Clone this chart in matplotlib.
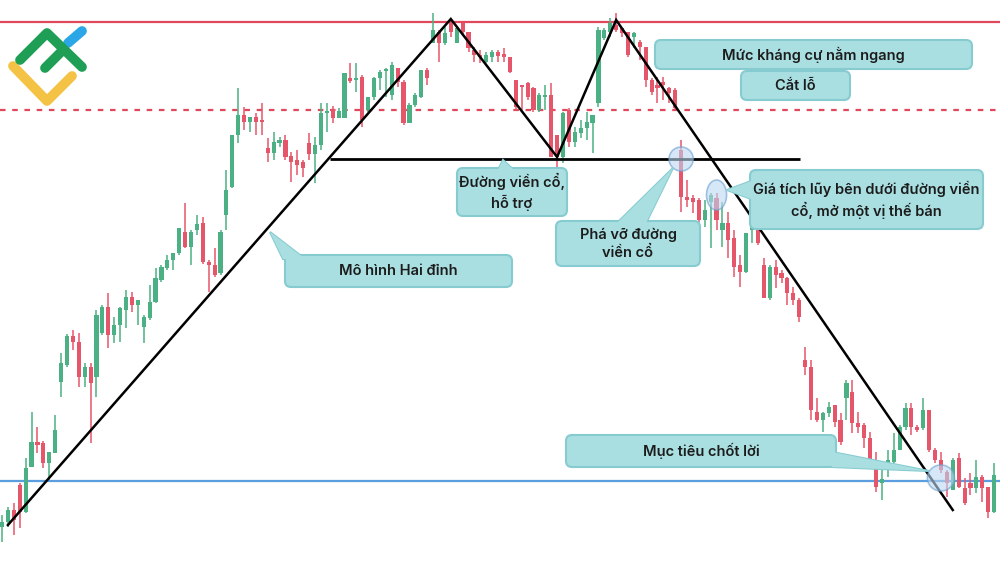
import numpy as np
import matplotlib
matplotlib.use("Agg")
import matplotlib.pyplot as plt
from matplotlib.patches import FancyBboxPatch, Polygon, Ellipse

plt.rcParams['font.family'] = ['Inter', 'DejaVu Sans']

# candle data (open, close, high, low)
opens = [45, 50, 62, 87, 60, 105, 130, 129, 109, 119, 190, 207, 236, 230, 195, 205, 195, 239, 265, 237,
         247, 262, 275, 267, 245, 254, 270, 292, 304, 312, 319, 340, 325, 342, 349, 310, 307, 299, 357, 385,
         437, 457, 450, 455, 452, 424, 419, 429, 432, 416, 412, 410, 429, 418, 427, 459, 463, 454, 454, 494,
         492, 495, 462, 475, 494, 501, 477, 504, 490, 449, 467, 475, 502, 529, 540, 529, 549, 529, 549, 540,
         522, 517, 510, 515, 520, 518, 515, 492, 487, 489, 484, 462, 475, 477, 437, 415, 462, 430, 439, 444,
         449, 469, 534, 540, 547, 544, 540, 535, 530, 525, 492, 487, 490, 484, 482, 422, 375, 374, 372, 352,
         370, 374, 342, 349, 334, 307, 300, 342, 342, 307, 274, 305, 299, 294, 279, 272, 212, 205, 160, 152,
         159, 167, 152, 174, 180, 149, 147, 134, 104, 89, 104, 110, 122, 145, 164, 145, 144, 162, 122, 112,
         100, 82, 114, 84, 89, 84, 95, 85, 60]
closes = [50, 62, 52, 60, 104, 130, 127, 109, 120, 142, 209, 236, 230, 195, 205, 189, 257, 265, 237, 247,
          264, 275, 267, 272, 255, 270, 294, 305, 312, 319, 344, 325, 340, 348, 310, 307, 297, 340, 382, 437,
          457, 450, 455, 450, 450, 419, 430, 432, 415, 410, 407, 404, 418, 427, 459, 461, 454, 461, 499, 491,
          494, 452, 475, 494, 500, 503, 507, 490, 449, 467, 477, 502, 494, 542, 529, 539, 540, 544, 540, 524,
          517, 515, 517, 520, 516, 515, 500, 465, 485, 475, 462, 477, 477, 415, 415, 459, 430, 440, 444, 450,
          457, 542, 542, 549, 542, 539, 517, 539, 525, 492, 480, 484, 487, 479, 464, 375, 372, 370, 352, 362,
          377, 352, 349, 332, 305, 300, 339, 352, 329, 274, 305, 297, 294, 279, 272, 255, 205, 162, 152, 159,
          165, 150, 130, 189, 149, 145, 134, 110, 85, 93, 112, 122, 145, 164, 145, 142, 162, 122, 112, 102,
          89, 112, 85, 69, 84, 95, 84, 60, 97]
highs = [57, 65, 69, 89, 114, 160, 145, 131, 120, 157, 219, 238, 242, 239, 209, 209, 262, 267, 279, 255,
         265, 282, 280, 272, 257, 287, 304, 307, 317, 319, 344, 369, 342, 357, 355, 312, 324, 342, 402, 437,
         484, 465, 455, 459, 469, 434, 440, 435, 437, 420, 422, 412, 439, 435, 469, 469, 466, 464, 499, 509,
         509, 497, 475, 495, 502, 504, 510, 504, 492, 469, 479, 502, 504, 559, 542, 545, 551, 545, 549, 540,
         525, 522, 520, 522, 522, 524, 515, 492, 487, 490, 485, 479, 487, 489, 437, 460, 464, 445, 452, 460,
         457, 545, 544, 554, 559, 544, 540, 540, 532, 525, 494, 495, 495, 485, 484, 432, 392, 377, 374, 372,
         379, 379, 370, 360, 342, 317, 339, 354, 345, 314, 307, 312, 302, 295, 285, 274, 225, 212, 174, 160,
         170, 167, 159, 192, 192, 160, 149, 140, 120, 102, 122, 139, 147, 169, 169, 147, 174, 162, 124, 120,
         102, 114, 119, 94, 99, 112, 97, 85, 109]
lows = [30, 45, 37, 44, 59, 105, 119, 104, 92, 119, 175, 205, 222, 185, 185, 129, 175, 237, 224, 229,
        230, 244, 260, 247, 229, 252, 269, 290, 302, 302, 317, 324, 307, 337, 308, 280, 295, 297, 342, 384,
        429, 442, 440, 437, 437, 410, 412, 425, 412, 390, 397, 395, 412, 389, 422, 440, 449, 454, 454, 489,
        480, 445, 460, 472, 482, 475, 472, 485, 447, 449, 465, 474, 487, 529, 510, 527, 535, 529, 537, 520,
        510, 509, 509, 510, 510, 510, 499, 462, 462, 472, 460, 460, 462, 415, 405, 409, 425, 425, 434, 432,
        419, 465, 532, 535, 540, 535, 515, 524, 512, 485, 477, 469, 472, 469, 462, 360, 365, 359, 350, 345,
        324, 342, 325, 314, 295, 285, 299, 329, 327, 274, 272, 284, 289, 267, 267, 250, 197, 152, 150, 140,
        155, 145, 127, 152, 139, 139, 124, 109, 80, 72, 95, 109, 122, 142, 137, 140, 142, 120, 109, 99,
        75, 82, 84, 67, 77, 79, 70, 54, 59]

# levels
resistance = 550
stop_loss = 462
neckline = 413
target = 91
neck_start, neck_end = 55.5, 135.1

# double top pattern points (candle index, price)
pattern_x = [1.0, 76.0, 94.0, 104.0, 161.0]
pattern_y = [47, 553, 415, 552, 62]

green = '#4bb083'
red = '#e6566b'

fig = plt.figure(figsize=(10, 5.72), dpi=100)
ax = fig.add_axes([0, 0, 1, 1])
ax.set_xlim(-0.34, 169.0)
ax.set_ylim(0, 572)
ax.axis('off')

idx = np.arange(len(opens))
o = np.array(opens)
c = np.array(closes)
up = c >= o
col = np.where(up, green, red)
ax.vlines(idx, lows, highs, colors=col, linewidth=1.1, zorder=2)
ax.bar(idx, np.abs(c - o) + 0.8, bottom=np.minimum(o, c) - 0.4, width=0.7, color=col, zorder=3)

ax.axhline(resistance, color='#e0485c', lw=1.6, zorder=1)
ax.axhline(stop_loss, color='#e0485c', lw=1.6, ls=(0, (2.5, 3)), zorder=1)
ax.axhline(target, color='#5a9ee0', lw=1.6, zorder=1)
ax.hlines(neckline, neck_start, neck_end, color='black', lw=2, zorder=4)
ax.plot(pattern_x, pattern_y, color='black', lw=1.8, zorder=4, solid_joinstyle='miter')

# circles
for cx, cy, w, h in [(115, 413, 4.1, 24), (121, 377, 3.4, 30), (159, 94, 4.6, 26)]:
    ax.add_patch(Ellipse((cx, cy), w, h, facecolor='#bcd8f2', edgecolor='#6a9fd0',
                         alpha=0.6, lw=1.2, zorder=5))

# overlay in pixel coords for callouts + logo
ov = fig.add_axes([0, 0, 1, 1])
ov.set_xlim(0, 1000)
ov.set_ylim(572, 0)
ov.axis('off')
ov.patch.set_alpha(0)

fill = '#aadfe2'
edge = '#86cbd0'

callouts = [
    ((655, 40, 317, 29), None, 'Mức kháng cự nằm ngang'),
    ((741, 71, 109, 29), None, 'Cắt lỗ'),
    ((457, 168, 110, 48), [(503, 160), (496, 174), (518, 174)], 'Đường viền cổ,\nhỗ trợ'),
    ((285, 255, 227, 32), [(270, 232), (283, 259), (305, 259)], 'Mô hình Hai đỉnh'),
    ((556, 221, 144, 45), [(673, 168), (615, 225), (645, 225)], 'Phá vỡ đường\nviền cổ'),
    ((750, 170, 233, 59), [(727, 190), (754, 180), (754, 200)], 'Giá tích lũy bên dưới đường viền\ncổ, mở một vị thế bán'),
    ((566, 435, 270, 32), [(929, 471), (832, 452), (832, 467)], 'Mục tiêu chốt lời'),
]
for (x0, y0, w, h), ptr, txt in callouts:
    if ptr:
        ov.add_patch(Polygon(ptr, closed=True, facecolor=fill, edgecolor=edge, lw=1.5, zorder=5))
    ov.add_patch(FancyBboxPatch((x0, y0), w, h, boxstyle='round,pad=0,rounding_size=6',
                                facecolor=fill, edgecolor=edge, lw=1.5, zorder=6))
    if ptr:
        ov.add_patch(Polygon(ptr, closed=True, facecolor=fill, edgecolor='none', zorder=7))
    ov.text(x0 + w / 2, y0 + h / 2, txt, ha='center', va='center', fontsize=10.5,
            fontweight='semibold', color='#1c1c1c', linespacing=1.35, zorder=8)

# logo
ov.plot([13, 47, 72], [66, 101, 76], color='#f4c345', lw=7, solid_capstyle='round', solid_joinstyle='round', zorder=9)
ov.plot([20, 47, 82], [60, 33, 67], color='#1f9e55', lw=7, solid_capstyle='round', solid_joinstyle='round', zorder=9)
ov.plot([45, 63], [68, 50], color='#1f9e55', lw=7, solid_capstyle='round', zorder=9)
ov.plot([68, 82], [43, 31], color='#2ba6e6', lw=7, solid_capstyle='round', zorder=8)

plt.savefig('out.png', dpi=100, facecolor='white')
